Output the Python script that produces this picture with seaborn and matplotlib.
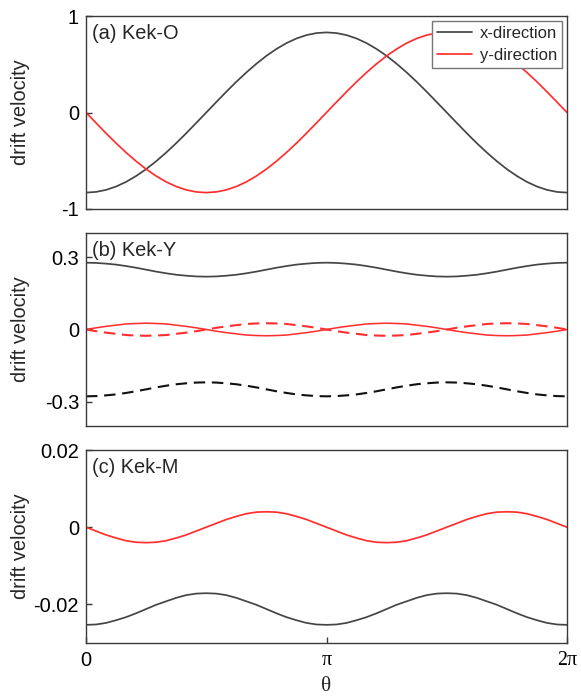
import numpy as np
import pandas as pd
import matplotlib
matplotlib.use("Agg")
import matplotlib.pyplot as plt
import seaborn as sns

# angle grid: 0 .. 2*pi in steps of pi/24
theta = np.linspace(0.0, 2.0 * np.pi, 49)

# (a) Kek-O
kek_o_x = [-0.830, -0.823, -0.802, -0.767, -0.719, -0.658, -0.587, -0.505, -0.415, -0.318,
           -0.215, -0.108, 0.000, 0.108, 0.215, 0.318, 0.415, 0.505, 0.587, 0.658,
           0.719, 0.767, 0.802, 0.823, 0.830, 0.823, 0.802, 0.767, 0.719, 0.658,
           0.587, 0.505, 0.415, 0.318, 0.215, 0.108, 0.000, -0.108, -0.215, -0.318,
           -0.415, -0.505, -0.587, -0.658, -0.719, -0.767, -0.802, -0.823, -0.830]
kek_o_y = [0.000, -0.108, -0.215, -0.318, -0.415, -0.505, -0.587, -0.658, -0.719, -0.767,
           -0.802, -0.823, -0.830, -0.823, -0.802, -0.767, -0.719, -0.658, -0.587, -0.505,
           -0.415, -0.318, -0.215, -0.108, 0.000, 0.108, 0.215, 0.318, 0.415, 0.505,
           0.587, 0.658, 0.719, 0.767, 0.802, 0.823, 0.830, 0.823, 0.802, 0.767,
           0.719, 0.658, 0.587, 0.505, 0.415, 0.318, 0.215, 0.108, 0.000]

# (b) Kek-Y, two valleys: solid and dashed
kek_y_x1 = [0.277, 0.276, 0.273, 0.269, 0.263, 0.256, 0.248, 0.240, 0.233, 0.227,
            0.223, 0.220, 0.219, 0.220, 0.223, 0.227, 0.233, 0.240, 0.248, 0.256,
            0.263, 0.269, 0.273, 0.276, 0.277, 0.276, 0.273, 0.269, 0.263, 0.256,
            0.248, 0.240, 0.233, 0.227, 0.223, 0.220, 0.219, 0.220, 0.223, 0.227,
            0.233, 0.240, 0.248, 0.256, 0.263, 0.269, 0.273, 0.276, 0.277]
kek_y_x2 = [-0.277, -0.276, -0.273, -0.269, -0.263, -0.256, -0.248, -0.240, -0.233, -0.227,
            -0.223, -0.220, -0.219, -0.220, -0.223, -0.227, -0.233, -0.240, -0.248, -0.256,
            -0.263, -0.269, -0.273, -0.276, -0.277, -0.276, -0.273, -0.269, -0.263, -0.256,
            -0.248, -0.240, -0.233, -0.227, -0.223, -0.220, -0.219, -0.220, -0.223, -0.227,
            -0.233, -0.240, -0.248, -0.256, -0.263, -0.269, -0.273, -0.276, -0.277]
kek_y_y1 = [0.000, 0.007, 0.013, 0.018, 0.023, 0.025, 0.026, 0.025, 0.023, 0.018,
            0.013, 0.007, 0.000, -0.007, -0.013, -0.018, -0.023, -0.025, -0.026, -0.025,
            -0.023, -0.018, -0.013, -0.007, 0.000, 0.007, 0.013, 0.018, 0.023, 0.025,
            0.026, 0.025, 0.023, 0.018, 0.013, 0.007, 0.000, -0.007, -0.013, -0.018,
            -0.023, -0.025, -0.026, -0.025, -0.023, -0.018, -0.013, -0.007, 0.000]
kek_y_y2 = [0.000, -0.007, -0.013, -0.018, -0.023, -0.025, -0.026, -0.025, -0.023, -0.018,
            -0.013, -0.007, 0.000, 0.007, 0.013, 0.018, 0.023, 0.025, 0.026, 0.025,
            0.023, 0.018, 0.013, 0.007, 0.000, -0.007, -0.013, -0.018, -0.023, -0.025,
            -0.026, -0.025, -0.023, -0.018, -0.013, -0.007, 0.000, 0.007, 0.013, 0.018,
            0.023, 0.025, 0.026, 0.025, 0.023, 0.018, 0.013, 0.007, 0.000]

# (c) Kek-M
kek_m_x = [-0.0253, -0.0252, -0.0248, -0.0241, -0.0233, -0.0223, -0.0212, -0.0201, -0.0192, -0.0183,
           -0.0176, -0.0172, -0.0171, -0.0172, -0.0176, -0.0183, -0.0192, -0.0201, -0.0212, -0.0223,
           -0.0233, -0.0241, -0.0248, -0.0252, -0.0253, -0.0252, -0.0248, -0.0241, -0.0233, -0.0223,
           -0.0212, -0.0201, -0.0192, -0.0183, -0.0176, -0.0172, -0.0171, -0.0172, -0.0176, -0.0183,
           -0.0192, -0.0201, -0.0212, -0.0223, -0.0233, -0.0241, -0.0248, -0.0252, -0.0253]
kek_m_y = [0.0000, -0.0010, -0.0020, -0.0028, -0.0035, -0.0039, -0.0040, -0.0039, -0.0035, -0.0028,
           -0.0020, -0.0010, 0.0000, 0.0010, 0.0020, 0.0028, 0.0035, 0.0039, 0.0040, 0.0039,
           0.0035, 0.0028, 0.0020, 0.0010, 0.0000, -0.0010, -0.0020, -0.0028, -0.0035, -0.0039,
           -0.0040, -0.0039, -0.0035, -0.0028, -0.0020, -0.0010, 0.0000, 0.0010, 0.0020, 0.0028,
           0.0035, 0.0039, 0.0040, 0.0039, 0.0035, 0.0028, 0.0020, 0.0010, 0.0000]

panel_titles = ["(a) Kek-O", "(b) Kek-Y", "(c) Kek-M"]
legend_labels = ["x-direction", "y-direction"]
x_tick_labels = ["0", "\u03c0", "2\u03c0"]

sns.set_theme(style="ticks")
plt.rcParams["font.family"] = ["Liberation Sans", "DejaVu Sans"]
plt.rcParams["axes.unicode_minus"] = False

GRAY = "#454545"
RED = "#ff2f2f"
BLACK = "#111111"
SPINE = "#3a3a3a"
FS = 14.4
SERIF = ["Liberation Serif", "DejaVu Serif"]

fig = plt.figure(figsize=(5.81, 6.96), dpi=100)
left, width, height = 86 / 581, 481 / 581, 193 / 696
ax_a = fig.add_axes([left, 1 - 209 / 696, width, height])
ax_b = fig.add_axes([left, 1 - 426 / 696, width, height])
ax_c = fig.add_axes([left, 1 - 643 / 696, width, height])

lw = 1.25
dash = (0, (5.5, 3.2))

# (a)
sns.lineplot(x=theta, y=kek_o_x, ax=ax_a, color=GRAY, lw=lw, label=legend_labels[0])
sns.lineplot(x=theta, y=kek_o_y, ax=ax_a, color=RED, lw=lw, label=legend_labels[1])
ax_a.set_ylim(-1, 1)
ax_a.set_yticks([-1, 0, 1])
ax_a.set_yticklabels(["-1", "0", "1"])

# (b)
sns.lineplot(x=theta, y=kek_y_x1, ax=ax_b, color=GRAY, lw=lw)
sns.lineplot(x=theta, y=kek_y_y1, ax=ax_b, color=RED, lw=lw * 0.9)
sns.lineplot(x=theta, y=kek_y_y2, ax=ax_b, color=RED, lw=lw * 1.2, linestyle=dash)
sns.lineplot(x=theta, y=kek_y_x2, ax=ax_b, color=BLACK, lw=lw * 1.2, linestyle=dash)
ax_b.set_ylim(-0.4, 0.4)
ax_b.set_yticks([-0.3, 0, 0.3])
ax_b.set_yticklabels(["-0.3", "0", "0.3"])

# (c)
sns.lineplot(x=theta, y=kek_m_x, ax=ax_c, color=GRAY, lw=lw)
sns.lineplot(x=theta, y=kek_m_y, ax=ax_c, color=RED, lw=lw)
ax_c.set_ylim(-0.03, 0.02)
ax_c.set_yticks([-0.02, 0, 0.02])
ax_c.set_yticklabels(["-0.02", "0", "0.02"])

for ax, title in zip([ax_a, ax_b, ax_c], panel_titles):
    ax.set_xlim(0, 2 * np.pi)
    for sp in ax.spines.values():
        sp.set_visible(True)
        sp.set_color(SPINE)
        sp.set_linewidth(1.0)
    ax.tick_params(axis="y", direction="in", length=4, width=1.0, color=SPINE,
                   labelsize=FS, pad=5, labelcolor="black")
    ax.tick_params(axis="x", direction="in", length=4.3, width=1.0, color=SPINE,
                   labelsize=FS, pad=6, labelcolor="black")
    ax.set_ylabel("drift velocity", fontsize=FS)
    ax.yaxis.set_label_coords(-0.116, 0.5)
    ax.text(0.013, 0.91, title, transform=ax.transAxes, fontsize=FS,
            ha="left", va="center")
    ax.set_xlabel("")

for ax in (ax_a, ax_b):
    ax.set_xticks([])

ax_c.set_xticks([0, np.pi, 2 * np.pi])
ax_c.set_xticklabels(x_tick_labels)
for lab in ax_c.get_xticklabels():
    if lab.get_text() != "0":
        lab.set_fontfamily(SERIF)
ax_c.set_xlabel("\u03b8", fontsize=FS + 1, family=SERIF, labelpad=4.5)

leg = ax_a.legend(loc="upper right", fontsize=12.0, frameon=True, fancybox=False,
                  framealpha=1.0, edgecolor="#777777", handlelength=2.1,
                  handletextpad=0.45, borderpad=0.3, labelspacing=0.4,
                  borderaxespad=0.3)
leg.get_frame().set_linewidth(1.0)

fig.savefig("out.png", dpi=100)
